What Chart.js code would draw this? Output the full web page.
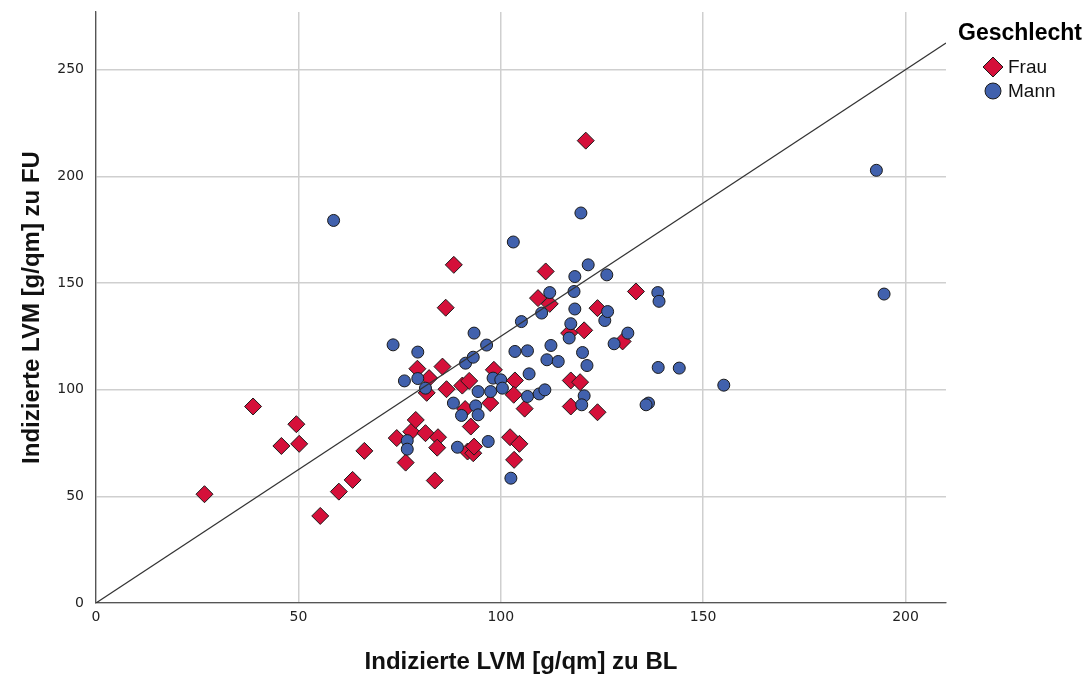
<!DOCTYPE html>
<html>
<head>
<meta charset="utf-8">
<script src="https://cdn.jsdelivr.net/npm/chart.js@4.4.1/dist/chart.umd.min.js"></script>
<style>
  html, body { margin: 0; padding: 0; background: #fff; }
  #wrap { width: 1090px; height: 677px; }
</style>
</head>
<body>
<div id="wrap"><canvas id="chart" width="1090" height="677"></canvas></div>
<script>
// Indizierte LVM [g/qm]: BL (x) vs FU (y)
const frauBL = [26.8, 38.8, 45.8, 49.5, 50.2, 55.4, 60.0, 63.4, 66.3, 74.3, 76.5, 77.9, 79.0, 79.4, 81.4, 82.3, 81.7,
  84.5, 84.3, 83.7, 85.6, 86.4, 86.6, 88.4, 90.5, 92.2, 91.2, 92.6, 91.8, 93.2, 93.4, 98.3, 97.4, 103.5, 103.2,
  105.9, 102.3, 104.6, 103.3, 109.2, 111.1, 112.1, 116.9, 120.6, 117.3, 119.6, 117.3, 123.9, 123.9, 130.1, 133.4, 121.0];
const frauFU = [51.0, 92.1, 73.6, 83.8, 74.6, 40.8, 52.2, 57.7, 71.3, 77.3, 65.8, 80.3, 85.8, 109.8, 79.6, 105.4, 98.5,
  77.7, 72.8, 57.4, 110.8, 138.4, 100.2, 158.5, 101.9, 104.1, 90.9, 82.7, 71.0, 70.2, 73.3, 109.3, 93.7, 104.3, 97.6,
  91.1, 77.7, 74.6, 67.1, 142.9, 155.4, 140.2, 126.5, 127.8, 104.3, 103.5, 92.1, 89.4, 138.2, 122.6, 146.0, 216.7];

const mannBL = [58.7, 73.4, 79.5, 76.2, 79.5, 81.4, 76.9, 76.9, 88.3, 90.3, 93.8, 94.4, 94.4, 97.5, 91.3, 93.2, 93.4,
  96.5, 96.9, 89.3, 98.1, 100.0, 100.4, 102.5, 103.1, 103.5, 106.6, 105.1, 107.0, 106.6, 109.5, 110.9, 110.1, 111.4,
  112.1, 112.4, 114.2, 116.9, 117.3, 118.1, 118.3, 118.3, 119.8, 120.2, 121.3, 120.6, 120.0, 121.6, 125.7, 126.2,
  126.4, 128.0, 131.4, 136.5, 135.9, 138.8, 139.1, 138.9, 144.1, 155.1, 192.8, 194.7];
const mannFU = [179.3, 121.0, 117.6, 104.1, 105.2, 100.7, 76.1, 72.1, 93.7, 87.9, 92.4, 88.2, 99.1, 99.1, 112.4, 115.2, 126.5,
  120.9, 75.7, 73.0, 105.4, 104.6, 100.7, 58.5, 169.2, 117.9, 118.2, 131.9, 107.4, 96.8, 98.0, 99.9, 135.9, 114.0,
  145.5, 120.7, 113.2, 124.2, 130.9, 146.0, 153.0, 137.8, 182.8, 117.4, 111.3, 97.1, 92.9, 158.5, 132.4, 153.8,
  136.6, 121.5, 126.5, 93.7, 92.9, 145.5, 141.4, 110.4, 110.1, 102.1, 202.8, 144.8];

// reference line through the origin
const lineBL = [0, 210];
const lineFU = [0, 262.5];

const xTicks = [0, 50, 100, 150, 200];
const yTicks = [0, 50, 100, 150, 200, 250];

const RED = '#d5103a';
const BLUE = '#4161ad';
const toPoints = (xs, ys) => xs.map((x, i) => ({ x: x, y: ys[i] }));

const legendPlugin = {
  id: 'sideLegend',
  afterDraw(chart) {
    const ctx = chart.ctx;
    ctx.save();
    ctx.fillStyle = '#000';
    ctx.textBaseline = 'middle';
    ctx.textAlign = 'left';
    ctx.font = 'bold 23px "Liberation Sans", Arial, sans-serif';
    ctx.fillText('Geschlecht', 958, 34);

    const items = [
      { label: 'Frau', style: 'rectRot', r: 10, color: RED, y: 67 },
      { label: 'Mann', style: 'circle', r: 8, color: BLUE, y: 91 }
    ];
    items.forEach(it => {
      ctx.fillStyle = it.color;
      ctx.strokeStyle = '#1a1a1a';
      ctx.lineWidth = 1;
      Chart.helpers.drawPoint(ctx, { pointStyle: it.style, radius: it.r, borderWidth: 1 }, 993, it.y);
      ctx.fillStyle = '#111';
      ctx.font = '19px "Liberation Sans", Arial, sans-serif';
      ctx.fillText(it.label, 1008, it.y + 1);
    });
    ctx.restore();
  }
};

new Chart(document.getElementById('chart'), {
  type: 'scatter',
  data: {
    datasets: [
      {
        type: 'line',
        label: 'line',
        data: toPoints(lineBL, lineFU),
        borderColor: '#333',
        borderWidth: 1.2,
        pointRadius: 0,
        fill: false,
        order: 0
      },
      {
        label: 'Mann',
        data: toPoints(mannBL, mannFU),
        pointStyle: 'circle',
        pointRadius: 6,
        backgroundColor: BLUE,
        borderColor: '#1a1a1a',
        borderWidth: 1,
        order: 1
      },
      {
        label: 'Frau',
        data: toPoints(frauBL, frauFU),
        pointStyle: 'rectRot',
        pointRadius: 8.5,
        backgroundColor: RED,
        borderColor: '#1a1a1a',
        borderWidth: 1,
        order: 2
      }
    ]
  },
  options: {
    responsive: false,
    animation: false,
    layout: { padding: { top: 12, right: 144, left: 0, bottom: 0 } },
    plugins: {
      legend: { display: false },
      tooltip: { enabled: false }
    },
    scales: {
      x: {
        type: 'linear',
        min: 0,
        max: 210,
        afterFit: s => { s.height = 74; s.paddingLeft = 0; s.paddingRight = 0; },
        afterBuildTicks: s => { s.ticks = xTicks.map(v => ({ value: v })); },
        grid: { color: '#cfcfcf', lineWidth: 1.5, drawTicks: false },
        border: { color: '#555', width: 1.3 },
        ticks: {
          color: '#222',
          padding: 6,
          font: { family: '"DejaVu Sans", sans-serif', size: 14 }
        },
        title: {
          display: true,
          text: 'Indizierte LVM [g/qm] zu BL',
          color: '#111',
          padding: { top: 0, bottom: 0 },
          font: { family: '"Liberation Sans", sans-serif', size: 24, weight: 'bold' }
        }
      },
      y: {
        type: 'linear',
        min: 0,
        max: 277,
        afterFit: s => { s.width = 96; s.paddingTop = 0; s.paddingBottom = 0; },
        afterBuildTicks: s => { s.ticks = yTicks.map(v => ({ value: v })); },
        grid: { color: '#cfcfcf', lineWidth: 1.5, drawTicks: false },
        border: { color: '#555', width: 1.3 },
        ticks: {
          color: '#222',
          padding: 12,
          font: { family: '"DejaVu Sans", sans-serif', size: 14 }
        },
        title: {
          display: true,
          text: 'Indizierte LVM [g/qm] zu FU',
          color: '#111',
          padding: { top: 18, bottom: 0 },
          font: { family: '"Liberation Sans", sans-serif', size: 24, weight: 'bold' }
        }
      }
    }
  },
  plugins: [legendPlugin]
});
</script>
</body>
</html>
